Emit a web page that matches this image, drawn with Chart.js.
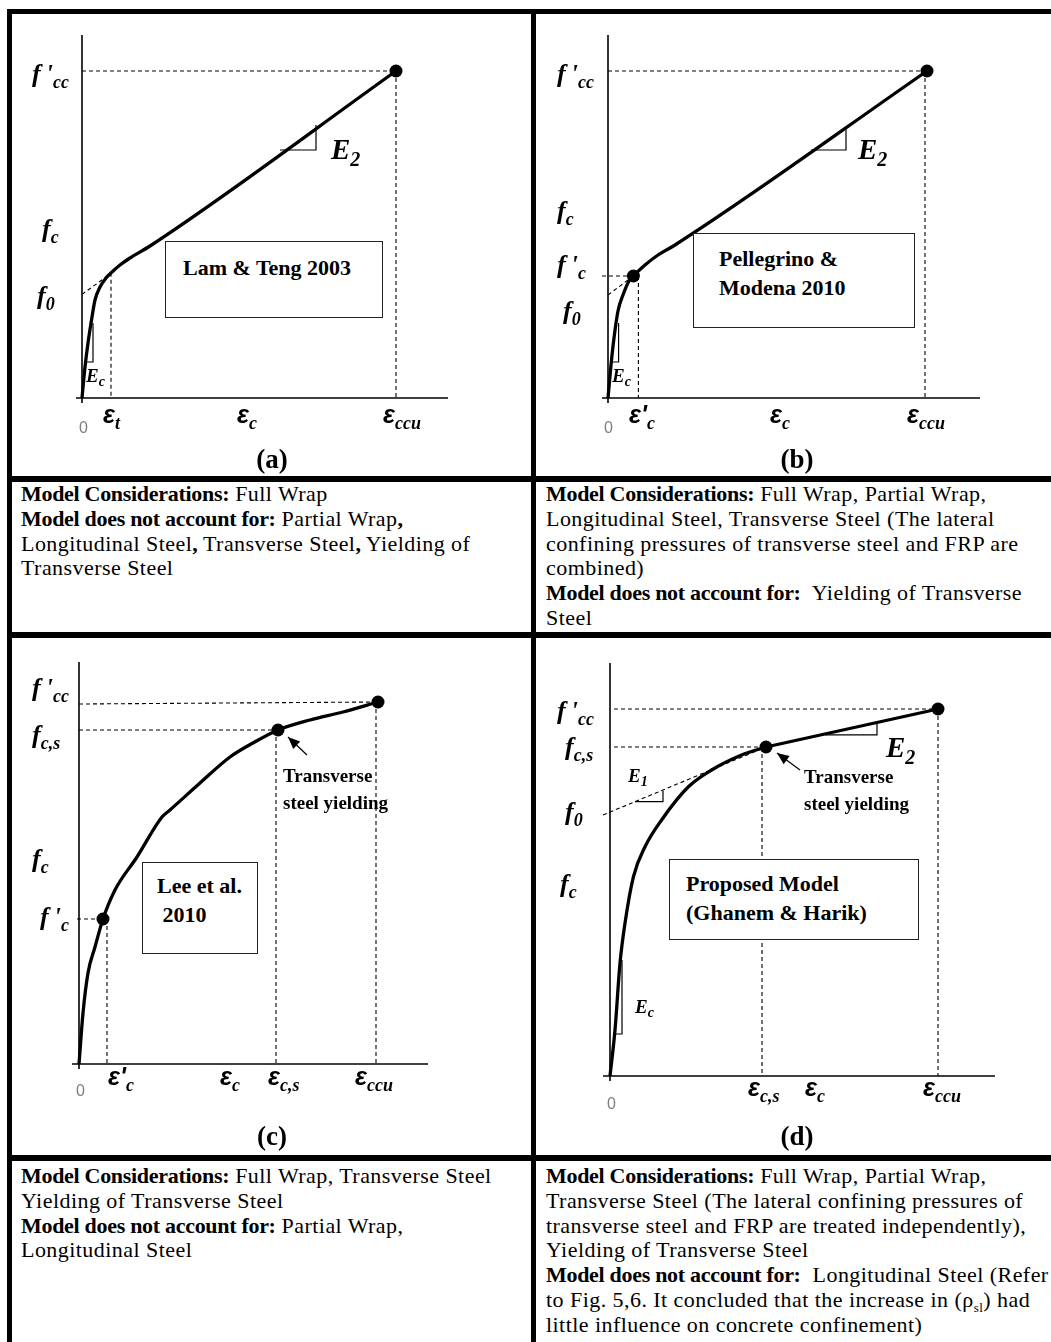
<!DOCTYPE html>
<html>
<head>
<meta charset="utf-8">
<script src="https://cdn.jsdelivr.net/npm/chart.js@4.4.1/dist/chart.umd.min.js"></script>
<style>
  html, body { margin: 0; padding: 0; background: #fff; }
  body { position: relative; width: 1051px; height: 1342px; overflow: hidden; font-family: 'Liberation Serif', 'Times New Roman', serif; color: #000; }
  .rule { position: absolute; background: #000; }
  canvas { position: absolute; }
  .lab { position: absolute; white-space: nowrap; line-height: 1; transform: translateY(-50%); }
  .sym { font: italic bold 26px 'Liberation Serif', serif; }
  .sym sub { font-size: 18px; vertical-align: -6px; line-height: 0; }
  .sm { font-size: 19px; }
  .sm sub { font-size: 14px; vertical-align: -4px; }
  .big { font-size: 29px; }
  .big sub { font-size: 20px; vertical-align: -7px; }
  .eps { font: italic bold 25px 'Liberation Sans', sans-serif; }
  .eps sub { font: italic bold 18px 'Liberation Serif', serif; vertical-align: -6px; line-height: 0; }
  .zero { font: 16px 'Liberation Sans', sans-serif; color: #7d7d7d; }
  .plab { position: absolute; font: bold 27px 'Liberation Serif', serif; transform: translate(-50%, -50%); }
  .note { position: absolute; font: bold 19px 'Liberation Serif', serif; line-height: 27px; white-space: nowrap; }
  .box { position: absolute; background: #fff; border: 1.3px solid #222; box-sizing: border-box; font: bold 22px 'Liberation Serif', serif; line-height: 29px; white-space: pre; }
  .txt { position: absolute; font-size: 22px; line-height: 24.8px; white-space: nowrap; letter-spacing: 0.45px; }
  .txt b { letter-spacing: -0.3px; }
  .txt sub { font-size: 13px; line-height: 0; }
</style>
</head>
<body>
<div class="rule" style="left:7px;top:9px;width:1044px;height:5px"></div>
<div class="rule" style="left:7px;top:9px;width:5px;height:1333px"></div>
<div class="rule" style="left:531px;top:9px;width:5px;height:1333px"></div>
<div class="rule" style="left:7px;top:476px;width:1044px;height:6px"></div>
<div class="rule" style="left:7px;top:632px;width:1044px;height:6px"></div>
<div class="rule" style="left:7px;top:1155px;width:1044px;height:6px"></div>

<canvas id="cA" width="519" height="462" style="left:12px;top:14px"></canvas>
<canvas id="cB" width="515" height="462" style="left:536px;top:14px"></canvas>
<canvas id="cC" width="519" height="517" style="left:12px;top:638px"></canvas>
<canvas id="cD" width="515" height="517" style="left:536px;top:638px"></canvas>

<div class="box" style="left:165px;top:241px;width:218px;height:77px;padding:11px 0 0 17px">Lam &amp; Teng 2003</div>
<div class="box" style="left:693px;top:233px;width:222px;height:95px;padding:10px 0 0 25px">Pellegrino &amp;
Modena 2010</div>
<div class="box" style="left:142px;top:862px;width:116px;height:92px;padding:8px 0 0 14px">Lee et al.
 2010</div>
<div class="box" style="left:669px;top:859px;width:250px;height:81px;padding:9px 0 0 16px">Proposed Model
(Ghanem &amp; Harik)</div>

<div class="note" style="left:283px;top:762px">Transverse<br>steel yielding</div>
<div class="note" style="left:804px;top:763px">Transverse<br>steel yielding</div>

<div class="plab" style="left:272px;top:459px">(a)</div>
<div class="plab" style="left:797px;top:459px">(b)</div>
<div class="plab" style="left:272px;top:1136px">(c)</div>
<div class="plab" style="left:797px;top:1136px">(d)</div>

<div class="txt" style="left:21px;top:482px"><b>Model Considerations:</b> Full Wrap<br><b>Model does not account for:</b> Partial Wrap<b>,</b><br>Longitudinal Steel<b>,</b> Transverse Steel<b>,</b> Yielding of<br>Transverse Steel</div>
<div class="txt" style="left:546px;top:482px"><b>Model Considerations:</b> Full Wrap, Partial Wrap,<br>Longitudinal Steel, Transverse Steel (The lateral<br>confining pressures of transverse steel and FRP are<br>combined)<br><b>Model does not account for:</b>&nbsp; Yielding of Transverse<br>Steel</div>
<div class="txt" style="left:21px;top:1164px"><b>Model Considerations:</b> Full Wrap, Transverse Steel<br>Yielding of Transverse Steel<br><b>Model does not account for:</b> Partial Wrap,<br>Longitudinal Steel</div>
<div class="txt" style="left:546px;top:1164px"><b>Model Considerations:</b> Full Wrap, Partial Wrap,<br>Transverse Steel (The lateral confining pressures of<br>transverse steel and FRP are treated independently),<br>Yielding of Transverse Steel<br><b>Model does not account for:</b>&nbsp; Longitudinal Steel (Refer<br>to Fig. 5,6. It concluded that the increase in (&rho;<sub>sl</sub>) had<br>little influence on concrete confinement)</div>

<script>
'use strict';
// ============================================================================
// Courbes contrainte-déformation schématiques (4 modèles de confinement PRF).
// Unités arbitraires : déformation ε (x), contrainte f (y).
// ============================================================================

// (a) Lam & Teng 2003
const A_EPS = [0, 0.15, 0.3, 0.5, 0.65, 0.9, 1.2, 1.5, 1.9, 2.4, 3.4, 15.7];
const A_SIG = [0, 7.75, 13.75, 20.25, 24.5, 27.75, 30, 31.5, 33.25, 35, 38, 81.75];
const A_KNEE = [1.45, 31.3];          // ε_t
const A_F0 = 25.9;
const A_E2 = [[9.9, 62], [11.7, 62], [11.7, 68.25]];
const A_EC = [[0.25, 9], [0.55, 9], [0.55, 18.75]];

// (b) Pellegrino & Modena 2010
const B_EPS = [0, 0.15, 0.3, 0.5, 0.75, 1.05, 1.27, 1.85, 2.5, 3.35, 15.95];
const B_SIG = [0, 8.25, 15, 21.75, 25.75, 29.25, 30.5, 33.25, 35.75, 38.25, 81.75];
const B_FC1 = [1.27, 30.5];           // ε'c, f'c
const B_F0 = 25.75;
const B_E2 = [[10.15, 62], [11.9, 62], [11.9, 67.75]];
const B_EC = [[0.2, 9], [0.53, 9], [0.53, 18.75]];

// (c) Lee et al. 2010
const C_EPS = [0, 0.2, 0.45, 0.8, 1.2, 1.8, 2.9, 4.15, 4.55, 6.05, 7.55, 8.7, 9.95, 11.55, 13.2, 14.95];
const C_SIG = [0, 12.75, 22.75, 29.25, 36.25, 43.5, 51.75, 61.75, 63.5, 70.25, 76.75, 80.25, 83.5, 86, 88, 90.5];
const C_MARKS = [[1.2, 36.25], [9.95, 83.5], [14.95, 90.5]];   // f'c, fc,s, f'cc
const C_VLINES = [1.4, 9.85, 14.85];
const C_ARROW = [[11.4, 77.25], [10.45, 81.75]];

// (d) Proposed model (Ghanem & Harik)
const D_EPS = [0, 0.25, 0.5, 0.75, 1.17, 1.75, 2.58, 3.92, 5.08, 6.58, 7.8];
const D_SIG = [0, 11.5, 28.2, 38.2, 49.8, 57.3, 64, 72.3, 76.5, 80.25, 82.25];
const D_PEAK = [16.4, 91.75];
const D_F0 = [-0.35, 65.25];
const D_E1 = [[1.25, 68.6], [2.65, 68.6], [2.65, 71.3]];
const D_E2 = [[10.75, 85.3], [13.35, 85.3], [13.35, 88.2]];
const D_EC = [[0.25, 10.5], [0.6, 10.5], [0.6, 29]];
const D_ARROW = [[9.5, 76.5], [8.35, 80.75]];

// Axes visibles (min, max) : ε puis f
const A_AX = [[-0.3, 18.3], [-1.25, 90.75]];
const B_AX = [[-0.3, 18.6], [-1.25, 90.75]];
const C_AX = [[-0.35, 17.45], [-1.25, 100.5]];
const D_AX = [[-0.35, 19.25], [-1.25, 103.25]];

// --- helpers ---------------------------------------------------------------
const pts = arr => arr.map(([x, y]) => ({ x, y }));
const zip = (xs, ys) => xs.map((x, i) => [x, ys[i]]);
const line = (arr, o = {}) => ({ data: pts(arr), showLine: true, pointRadius: 0, borderColor: '#000', backgroundColor: '#000', borderWidth: 1, clip: false, ...o });
const dash = arr => line(arr, { borderDash: [4, 3], borderWidth: 1.1 });
const thin = arr => line(arr, { borderWidth: 1.2 });
const curve = (xs, ys) => line(zip(xs, ys), { borderWidth: 3.3, cubicInterpolationMode: 'monotone' });
const dots = arr => ({ data: pts(arr), showLine: false, pointRadius: 6.5, pointHoverRadius: 6.5, backgroundColor: '#000', borderColor: '#000', borderWidth: 0, clip: false });
const axes = ax => [line([[ax[0][0], 0], [ax[0][1], 0]], { borderWidth: 1.6 }), line([[0, ax[1][0]], [0, ax[1][1]]], { borderWidth: 1.6 })];

// tête de flèche au dernier point des datasets marqués `arrow`
const arrowHeads = {
  id: 'arrowHeads',
  afterDatasetsDraw(chart) {
    const ctx = chart.ctx;
    chart.data.datasets.forEach((ds, i) => {
      if (!ds.arrow) return;
      const el = chart.getDatasetMeta(i).data; const a = el[el.length - 2], b = el[el.length - 1];
      const ang = Math.atan2(b.y - a.y, b.x - a.x), L = 12, W = 5;
      ctx.save(); ctx.fillStyle = '#000'; ctx.beginPath();
      ctx.moveTo(b.x, b.y);
      ctx.lineTo(b.x - L * Math.cos(ang) + W * Math.sin(ang), b.y - L * Math.sin(ang) - W * Math.cos(ang));
      ctx.lineTo(b.x - L * Math.cos(ang) - W * Math.sin(ang), b.y - L * Math.sin(ang) + W * Math.cos(ang));
      ctx.closePath(); ctx.fill(); ctx.restore();
    });
  },
};

function mk(id, ax, pad, datasets) {
  new Chart(document.getElementById(id), {
    type: 'scatter',
    data: { datasets },
    options: {
      responsive: false, animation: false, events: [], devicePixelRatio: 1,
      layout: { padding: pad },
      plugins: { legend: { display: false }, tooltip: { enabled: false } },
      scales: {
        x: { type: 'linear', display: false, min: ax[0][0], max: ax[0][1] },
        y: { type: 'linear', display: false, min: ax[1][0], max: ax[1][1] },
      },
    },
    plugins: [arrowHeads],
  });
}

// (a)
const aPk = [A_EPS[A_EPS.length - 1], A_SIG[A_SIG.length - 1]];
mk('cA', A_AX, { left: 64, top: 21, right: 83, bottom: 73 }, [
  dots([aPk]),
  curve(A_EPS, A_SIG),
  dash([[0, aPk[1]], aPk]), dash([aPk, [aPk[0], 0]]),
  dash([A_KNEE, [A_KNEE[0], 0]]), dash([[0, A_F0], [A_KNEE[0] - 0.1, A_KNEE[1] - 0.5]]),
  thin(A_E2), thin(A_EC),
  ...axes(A_AX),
]);

// (b)
const bPk = [B_EPS[B_EPS.length - 1], B_SIG[B_SIG.length - 1]];
mk('cB', B_AX, { left: 66, top: 21, right: 71, bottom: 73 }, [
  dots([B_FC1, bPk]),
  curve(B_EPS, B_SIG),
  dash([[0, bPk[1]], bPk]), dash([[bPk[0] - 0.1, bPk[1]], [bPk[0] - 0.1, 0]]),
  dash([[B_AX[0][0], B_FC1[1]], B_FC1]), dash([[B_FC1[0] + 0.25, B_FC1[1]], [B_FC1[0] + 0.25, 0]]),
  dash([[0, B_F0], B_FC1]),
  thin(B_E2), thin(B_EC),
  ...axes(B_AX),
]);

// (c)
mk('cC', C_AX, { left: 60, top: 24, right: 103, bottom: 86 }, [
  dots(C_MARKS),
  curve(C_EPS, C_SIG),
  dash([[0, C_MARKS[2][1] - 0.5], C_MARKS[2]]), dash([[0, C_MARKS[1][1]], C_MARKS[1]]),
  dash([[-0.1, C_MARKS[0][1]], C_MARKS[0]]),
  ...C_VLINES.map((v, i) => dash([[v, C_MARKS[i][1]], [v, 0]])),
  { ...thin(C_ARROW), arrow: true },
  ...axes(C_AX),
]);

// (d)
const dYs = [D_EPS[D_EPS.length - 1], D_SIG[D_SIG.length - 1]];
mk('cD', D_AX, { left: 67, top: 25, right: 56, bottom: 74 }, [
  dots([dYs, D_PEAK]),
  curve(D_EPS, D_SIG),
  line([dYs, D_PEAK], { borderWidth: 3.3 }),
  dash([[0.2, D_PEAK[1]], D_PEAK]), dash([D_PEAK, [D_PEAK[0], 0]]),
  dash([[0.2, dYs[1]], dYs]), dash([[dYs[0] - 0.2, dYs[1]], [dYs[0] - 0.2, 0]]),
  dash([D_F0, dYs]),
  thin(D_E1), thin(D_E2), thin(D_EC),
  { ...thin(D_ARROW), arrow: true },
  ...axes(D_AX),
]);

// --- étiquettes (texte HTML) -----------------------------------------------
const F = (s, sub, prime) => `<span class="sym">f${prime ? '&thinsp;\'' : ''}<sub>${sub}</sub></span>`;
const E = (sub, cls = 'sym sm') => `<span class="${cls}">E<sub>${sub}</sub></span>`;
const EPS = (sub, prime) => `<span class="eps">ε${prime ? '\'' : ''}<sub>${sub}</sub></span>`;
const LABELS = [
  // (a)
  [32, 74, F('f', 'cc', 1)], [42, 229, F('f', 'c')], [37, 296, F('f', '0')],
  [331, 149, E('2', 'sym big')], [86, 376, E('c')],
  [103, 414, EPS('t')], [237, 414, EPS('c')], [383, 414, EPS('ccu')], [79, 428, '<span class="zero">0</span>'],
  // (b)
  [557, 74, F('f', 'cc', 1)], [557, 211, F('f', 'c')], [557, 265, F('f', 'c', 1)], [563, 311, F('f', '0')],
  [858, 149, E('2', 'sym big')], [612, 376, E('c')],
  [629, 414, EPS('c', 1)], [770, 414, EPS('c')], [907, 414, EPS('ccu')], [604, 428, '<span class="zero">0</span>'],
  // (c)
  [32, 688, F('f', 'cc', 1)], [32, 735, F('f', 'c,s')], [32, 859, F('f', 'c')], [40, 917, F('f', 'c', 1)],
  [108, 1076, EPS('c', 1)], [220, 1076, EPS('c')], [268, 1076, EPS('c,s')], [355, 1076, EPS('ccu')], [76, 1091, '<span class="zero">0</span>'],
  // (d)
  [557, 711, F('f', 'cc', 1)], [565, 747, F('f', 'c,s')], [565, 812, F('f', '0')], [560, 884, F('f', 'c')],
  [628, 776, E('1')], [886, 747, E('2', 'sym big')], [635, 1007, E('c')],
  [748, 1087, EPS('c,s')], [805, 1087, EPS('c')], [923, 1087, EPS('ccu')], [607, 1104, '<span class="zero">0</span>'],
];
LABELS.forEach(([x, y, html]) => {
  const d = document.createElement('div');
  d.className = 'lab'; d.style.left = x + 'px'; d.style.top = y + 'px'; d.innerHTML = html;
  document.body.appendChild(d);
});
</script>
</body>
</html>
